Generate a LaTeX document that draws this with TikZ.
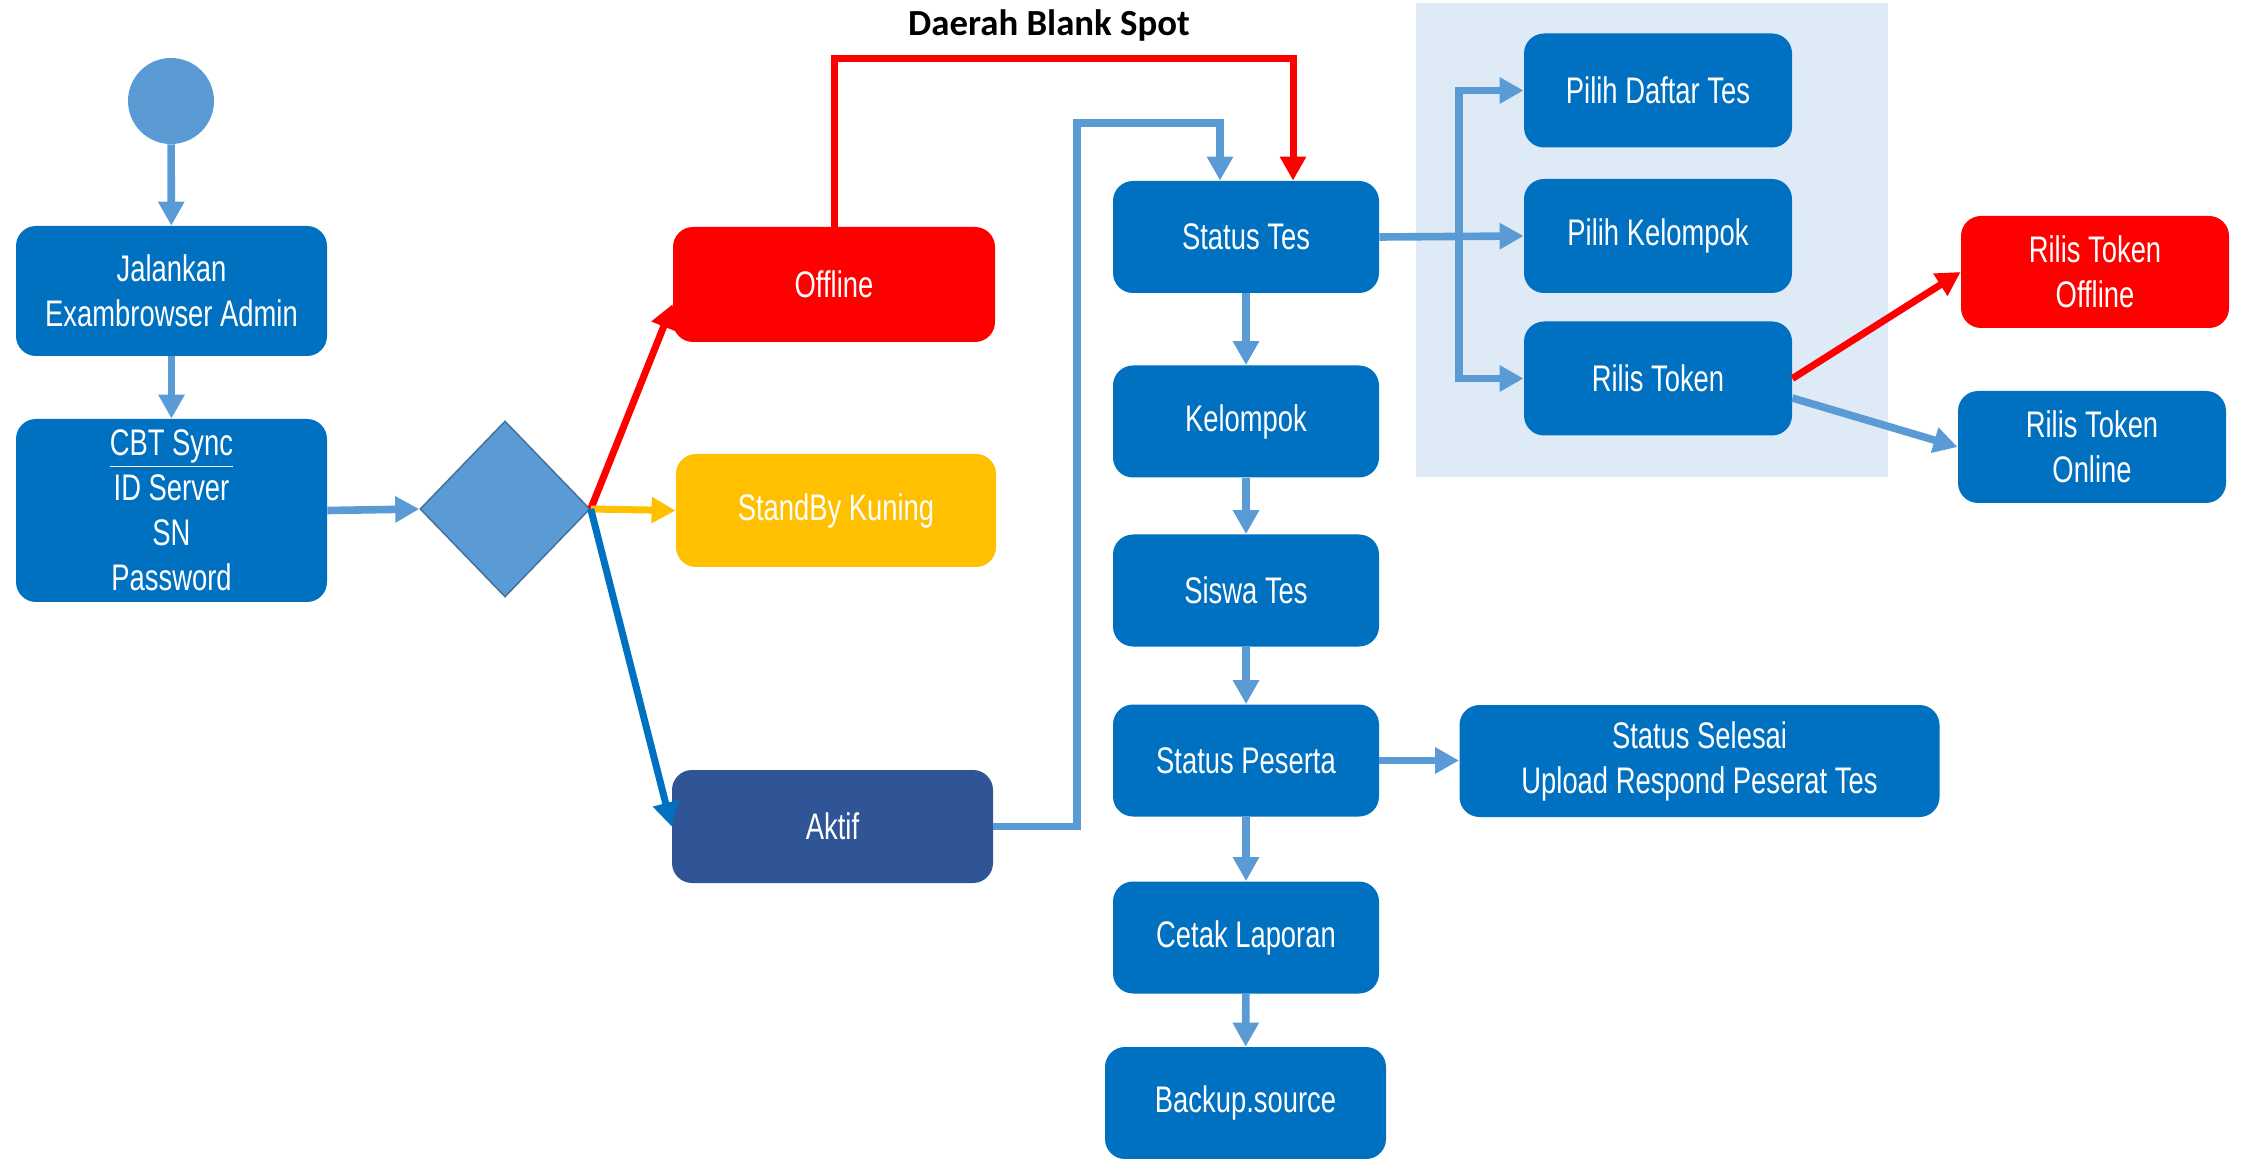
\documentclass[tikz,border=0pt]{standalone}
\usepackage{fontspec}
\usetikzlibrary{arrows.meta,shapes.geometric,calc}
\newfontfamily\boxfont[FakeStretch=0.74]{Liberation Sans}
\newfontfamily\titlefont{Carlito}
\definecolor{boxblue}{HTML}{0070C0}
\definecolor{lineblue}{HTML}{5B9BD5}
\definecolor{rimblue}{HTML}{41719C}
\definecolor{aktblue}{HTML}{2F5597}
\definecolor{panelblue}{HTML}{DEEBF7}
\definecolor{tokred}{HTML}{FF0000}
\definecolor{kuning}{HTML}{FFC000}
\begin{document}
\begin{tikzpicture}[x=0.5pt, y=-0.5pt,
  stepbox/.style={rectangle, rounded corners=10pt, fill=boxblue, text=white,
    inner sep=0pt, align=center, minimum width=133pt, minimum height=56pt,
    font=\boxfont\fontsize{18.5}{22.5}\selectfont},
  flow/.style={draw=lineblue, line width=3.8pt, -{Triangle[length=12pt,width=12.5pt]}},
  redflow/.style={flow, draw=tokred, line width=3.5pt},
  yelflow/.style={flow, draw=kuning, line width=3.5pt},
  darkflow/.style={flow, draw=boxblue, line width=3.5pt}]
  \useasboundingbox (0,0) rectangle (2241,1159);
  \fill [panelblue] (1416,3) rectangle (1888,477);
  \node [font=\titlefont\bfseries\fontsize{18.4}{22}\selectfont] (title) at (1049,25) {Daerah Blank Spot};
  % kiri
  \node [circle, fill=lineblue, minimum size=43pt, inner sep=0pt] (start) at (171,101) {};
  \node [stepbox, minimum width=155.5pt, minimum height=65pt] (jal) at (171.5,291) {Jalankan\\Exambrowser Admin};
  \node [stepbox, minimum width=155.5pt, minimum height=91.5pt] (cbt) at (171.5,510.5) {\underline{CBT Sync}\\ID Server\\SN\\Password};
  \node [diamond, fill=lineblue, draw=rimblue, line width=0.75pt, inner sep=0pt,
         minimum width=85pt, minimum height=88pt] (dia) at (505,509) {};
  \node [stepbox, fill=tokred, minimum width=161pt, minimum height=57.5pt] (off) at (834,284.5) {Offline};
  \node [stepbox, fill=kuning, minimum width=160pt, minimum height=56.5pt] (stb) at (836,510.5) {StandBy Kuning};
  \node [stepbox, fill=aktblue, minimum width=160.5pt, minimum height=56.5pt] (akt) at (832.5,826.5) {Aktif};
  % kolom tengah
  \node [stepbox] (sts) at (1246,237) {Status Tes};
  \node [stepbox] (kel) at (1246,421.5) {Kelompok};
  \node [stepbox] (sis) at (1246,590.5) {Siswa Tes};
  \node [stepbox] (stp) at (1246,760.5) {Status Peserta};
  \node [stepbox] (ctk) at (1246,937.5) {Cetak Laporan};
  \node [stepbox, minimum width=140.5pt] (bkp) at (1245.5,1103) {Backup.source};
  \node [stepbox, minimum width=240pt] (sel) at (1699.5,761) {Status Selesai\\Upload Respond Peserat Tes};
  % kanan
  \node [stepbox, minimum width=134pt, minimum height=57pt] (pdt) at (1658,90.5) {Pilih Daftar Tes};
  \node [stepbox, minimum width=134pt, minimum height=57pt] (pkl) at (1658,236) {Pilih Kelompok};
  \node [stepbox, minimum width=134pt, minimum height=57pt] (rtk) at (1658,378.5) {Rilis Token};
  \node [stepbox, fill=tokred, minimum width=134pt] (rto) at (2095,272) {Rilis Token\\Offline};
  \node [stepbox, minimum width=134pt] (rton) at (2092,447) {Rilis Token\\Online};
  \coordinate (redtop) at (1293,59);
  \coordinate (bend) at (1077,123);
  \coordinate (bluetop) at (1220,123);
  \coordinate (fork) at (1459,237);

  \draw [flow] (start) -- (jal);
  \draw [flow] (jal) -- (cbt);
  \draw [flow] (cbt.east) -- (dia.west);
  \draw [redflow] (dia.east) -- ($(off.south west)!0.33!(off.north west)$);
  \draw [yelflow] (dia.east) -- (stb.west);
  \draw [darkflow] (dia.east) -- (akt.west);
  \draw [redflow] (off.north) |- (redtop) -- (redtop |- sts.north);
  \draw [flow] (akt.east) -| (bend) -- (bluetop) -- (bluetop |- sts.north);
  \foreach \a/\b in {sts/kel, kel/sis, sis/stp, stp/ctk, ctk/bkp}
    \draw [flow] (\a) -- (\b);
  \draw [flow] (stp.east) -- (stp.east -| sel.west);
  \draw [flow] (sts.east) -- (pkl.west);
  \draw [flow] (fork) |- (pdt.west);
  \draw [flow] (fork) |- (rtk.west);
  \draw [redflow] (rtk.east) -- (rto.west);
  \draw [flow] ($(rtk.south east)!0.33!(rtk.north east)$) -- (rton.west);
\end{tikzpicture}
\end{document}
